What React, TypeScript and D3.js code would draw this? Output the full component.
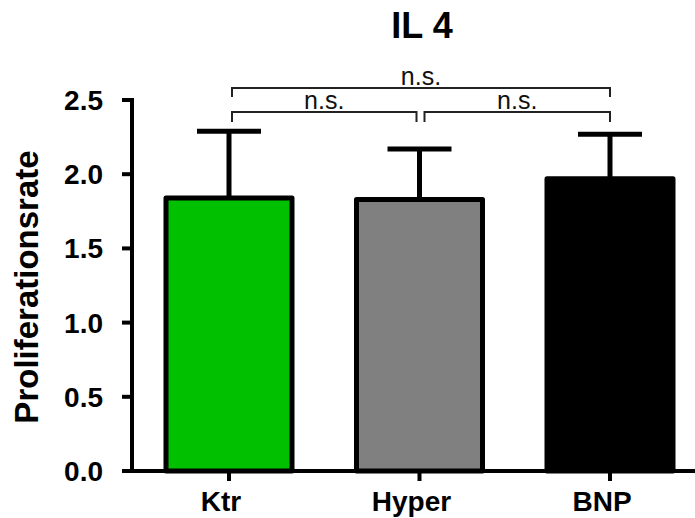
import React from "react";
import * as d3 from "d3";

// values
const categories = ["Ktr", "Hyper", "BNP"];
const means = [1.84, 1.83, 1.97];
const sdUpper = [0.45, 0.34, 0.3];
const barColors = ["#00C000", "#808080", "#000000"];
const yTicks = [0, 0.5, 1.0, 1.5, 2.0, 2.5];
const comparisons = [
  { from: 0, to: 1, label: "n.s.", level: 0 },
  { from: 1, to: 2, label: "n.s.", level: 0 },
  { from: 0, to: 2, label: "n.s.", level: 1 },
];

const W = 695;
const H = 518;
const axisX = 132;
const font = "'Liberation Sans', Arial, sans-serif";

const App = () => {
  const y = d3.scaleLinear().domain([0, 2.5]).range([471, 100]);
  const x = d3.scalePoint().domain(categories).range([229, 610]);
  const barW = 126;
  const capW = 64;

  const bracketY = (level) => 112 - level * 24;

  return (
    <svg
      width={W}
      height={H}
      style={{ position: "absolute", left: 0, top: 0, background: "#fff" }}
    >
      {/* title */}
      <text
        x={422}
        y={38}
        textAnchor="middle"
        fontFamily={font}
        fontWeight="bold"
        fontSize={36}
      >
        IL 4
      </text>

      {/* y axis title */}
      <text
        transform={`translate(38,287) rotate(-90)`}
        textAnchor="middle"
        fontFamily={font}
        fontWeight="bold"
        fontSize={33}
      >
        Proliferationsrate
      </text>

      {/* error bars (drawn first, bar covers the lower part) */}
      {categories.map((c, i) => {
        const cx = x(c);
        const top = y(means[i] + sdUpper[i]);
        return (
          <g key={"err" + c}>
            <line
              x1={cx}
              x2={cx}
              y1={y(means[i])}
              y2={top}
              stroke="#000"
              strokeWidth={5}
            />
            <line
              x1={cx - capW / 2}
              x2={cx + capW / 2}
              y1={top}
              y2={top}
              stroke="#000"
              strokeWidth={5}
            />
          </g>
        );
      })}

      {/* bars */}
      {categories.map((c, i) => (
        <rect
          key={"bar" + c}
          x={x(c) - barW / 2}
          y={y(means[i])}
          width={barW}
          height={y(0) - y(means[i])}
          fill={barColors[i]}
          stroke="#000"
          strokeWidth={5}
          strokeLinejoin="round"
        />
      ))}

      {/* y axis */}
      <line x1={axisX} x2={axisX} y1={y(2.5) - 2} y2={y(0) + 2} stroke="#000" strokeWidth={4} />
      {yTicks.map((t) => (
        <g key={"yt" + t}>
          <line x1={axisX - 10} x2={axisX} y1={y(t)} y2={y(t)} stroke="#000" strokeWidth={4} />
          <text
            x={103}
            y={y(t)}
            dy="0.36em"
            textAnchor="end"
            fontFamily={font}
            fontWeight="bold"
            fontSize={28}
          >
            {d3.format(".1f")(t)}
          </text>
        </g>
      ))}

      {/* x axis */}
      <line x1={axisX - 10} x2={W + 5} y1={y(0)} y2={y(0)} stroke="#000" strokeWidth={4} />
      {categories.map((c) => (
        <g key={"xt" + c}>
          <line x1={x(c)} x2={x(c)} y1={y(0)} y2={y(0) + 10} stroke="#000" strokeWidth={4} />
          <text
            x={x(c) - 8}
            y={511}
            textAnchor="middle"
            fontFamily={font}
            fontWeight="bold"
            fontSize={28}
          >
            {c}
          </text>
        </g>
      ))}

      {/* significance brackets */}
      {comparisons.map((cmp, k) => {
        const x1 = x(categories[cmp.from]) + (cmp.from > 0 ? 5 : 3);
        const x2 = x(categories[cmp.to]) - (cmp.to < categories.length - 1 ? 3 : 0);
        const by = bracketY(cmp.level);
        const leg = cmp.level === 0 ? 10 : 9;
        return (
          <g key={"br" + k}>
            <path
              d={`M${x1},${by + leg}V${by}H${x2}V${by + leg}`}
              fill="none"
              stroke="#222"
              strokeWidth={2}
            />
            <text
              x={(x1 + x2) / 2}
              y={by - 3}
              textAnchor="middle"
              fontFamily={font}
              fontSize={25}
              fill="#111"
            >
              {cmp.label}
            </text>
          </g>
        );
      })}
    </svg>
  );
};

export default App;
